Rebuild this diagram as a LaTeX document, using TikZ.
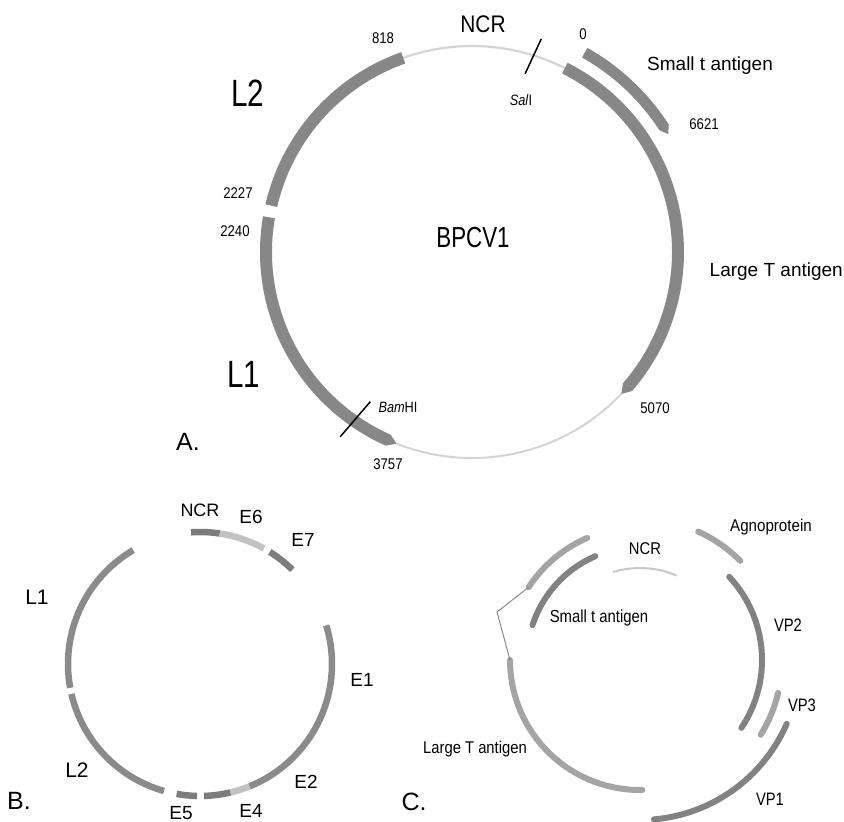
\documentclass[tikz,border=0pt]{standalone}
\usepackage{fontspec}
\setmainfont{Liberation Sans}
\usepackage{graphicx}
\usetikzlibrary{calc}

% greys of the three maps
\definecolor{segA}{HTML}{878787}
\definecolor{thinA}{HTML}{D4D4D4}
\definecolor{darkB}{HTML}{7C7C7C}
\definecolor{midB}{HTML}{8B8B8B}
\definecolor{lightB}{HTML}{C2C2C2}
\definecolor{lightC}{HTML}{A4A4A4}
\definecolor{darkC}{HTML}{828282}
\definecolor{ncrC}{HTML}{C8C8C8}

\newcommand{\fsz}[1]{\fontsize{#1}{#1}\selectfont}
\newcommand{\narrow}[2]{\scalebox{#1}[1]{#2}}

% filled band along a circle with a pointed end
% #1 colour, #2 centre, #3 radius, #4 half width, #5 start, #6 end, #7 tip (deg)
\newcommand{\tipband}[7]{%
  \fill[#1,shift={(#2)}] (#5:{#3+#4}) arc[start angle=#5,end angle=#6,radius={#3+#4}]
    -- ({#6+#7}:#3) -- (#6:{#3-#4})
    arc[start angle=#6,end angle=#5,radius={#3-#4}] -- cycle;}

% stroked arc: #1 style, #2 centre, #3 radius, #4 start, #5 end
\newcommand{\seg}[5]{%
  \draw[#1,shift={(#2)}] (#4:#3) arc[start angle=#4,end angle=#5,radius=#3];}

\tikzset{
  lbl/.style={inner sep=0pt, anchor=center, font=\fsz{19}},
  num/.style={inner sep=0pt, anchor=center, font=\fsz{15.5}},
  big/.style={inner sep=0pt, anchor=center, font=\fsz{38}},
  panel/.style={inner sep=0pt, anchor=center, font=\fsz{25}},
  bseg/.style={line width=6.5pt, line cap=butt},
  cseg/.style={line width=6pt, line cap=round},
  site/.style={line width=1.5pt, black}
}

\begin{document}
\begin{tikzpicture}[x=1pt,y=1pt]
\fill[white] (0,0) rectangle (844,-822);
\useasboundingbox (0,0) rectangle (844,-822);

% ---------------- A: BPCV1 ----------------
\def\cA{472,-252}
\seg{thinA,line width=2.2pt}{\cA}{206}{109.5}{63.2}
\seg{thinA,line width=2pt}{\cA}{206}{248.5}{317}
\tipband{segA}{\cA}{206}{6}{109.5}{167}{0}
\tipband{segA}{\cA}{206}{6}{170.3}{246}{2.5}
\tipband{segA}{\cA}{206}{6}{63.2}{-41}{-2.5}
\tipband{segA}{\cA}{229}{5.5}{60.5}{33}{-2}
% restriction sites
\draw[site,shift={(\cA)}] (72:224) -- (73.4:186);
\draw[site,shift={(\cA)}] (234.5:227) -- (235.8:181);

\node[num] (n818) at (383,-38) {\narrow{0.85}{818}};
\node[lbl,font=\fsz{24}] (ncrA) at (483,-24) {\narrow{0.87}{NCR}};
\node[num] (n0) at (583,-34) {\narrow{0.85}{0}};
\node[lbl,anchor=west] (smalltA) at (647,-66) {Small t antigen};
\node[num] (n6621) at (704,-124) {\narrow{0.85}{6621}};
\node[big] (l2A) at (248,-93) {\narrow{0.78}{L2}};
\node[num] (n2227) at (238,-193) {\narrow{0.85}{2227}};
\node[num] (n2240) at (235,-231) {\narrow{0.85}{2240}};
\node[lbl,font=\fsz{29}] (bpcv) at (473,-238) {\narrow{0.77}{BPCV1}};
\node[lbl,anchor=east] (largeTA) at (843,-272) {Large T antigen};
\node[big] (l1A) at (244,-374) {\narrow{0.78}{L1}};
\node[lbl,font=\fsz{15}] (bam) at (398,-407) {\narrow{0.85}{\textit{Bam}HI}};
\node[lbl,font=\fsz{15}] (sal) at (521,-100) {\narrow{0.85}{\textit{Sal}I}};
\node[num] (n5070) at (655,-408) {\narrow{0.85}{5070}};
\node[panel] (pA) at (188,-442) {A.};
\node[num] (n3757) at (388,-464) {\narrow{0.85}{3757}};

% ---------------- B ----------------
\def\cB{200,-664}
\seg{bseg,darkB}{\cB}{132}{93.9}{81.4}
\seg{bseg,lightB}{\cB}{132}{81.4}{61}
\seg{bseg,darkB}{\cB}{132}{58.1}{45.6}
\seg{bseg,midB}{\cB}{132}{17}{-32.1}
\seg{bseg,midB}{\cB}{132}{-32.1}{-68}
\seg{bseg,lightB}{\cB}{132}{-68}{-76.7}
\seg{bseg,darkB}{\cB}{132}{-76.7}{-88.3}
\seg{bseg,darkB}{\cB}{132}{-91.3}{-100.2}
\seg{bseg,midB}{\cB}{132}{-105.8}{-166.9}
\seg{bseg,midB}{\cB}{132}{-169.6}{-239.6}

\node[lbl,font=\fsz{18}] (ncrB) at (200,-510) {NCR};
\node[lbl] (e6) at (251,-517) {E6};
\node[lbl] (e7) at (303,-540) {E7};
\node[lbl,font=\fsz{21}] (l1B) at (37,-597) {L1};
\node[lbl] (e1) at (362,-680) {E1};
\node[lbl,font=\fsz{21}] (l2B) at (77,-770) {L2};
\node[lbl] (e2) at (306,-782) {E2};
\node[lbl] (e5) at (181,-813) {E5};
\node[lbl] (e4) at (251,-811) {E4};
\node[panel] (pB) at (19,-801) {B.};

% ---------------- C ----------------
\def\cC{640,-660}
\seg{line width=2pt,ncrC}{\cC}{92}{107}{66.6}
\seg{cseg,lightC}{\cC}{133}{146.8}{113.4}
\seg{cseg,darkC}{\cC}{113}{162}{113.3}
\seg{cseg,lightC}{\cC}{130}{180}{271}
\seg{cseg,lightC}{\cC}{141}{65.6}{44.7}
\seg{cseg,darkC}{\cC}{122}{43}{-33.8}
\seg{cseg,lightC}{\cC}{142}{-13.4}{-31.8}
\seg{cseg,darkC}{\cC}{160}{-23.5}{-85}

% splice between the two Large T exons
\coordinate (exon1) at ($(640,-660)+(146.8:133)$);
\coordinate (bend) at (497,-612);
\coordinate (exon2) at ($(640,-660)+(180:130)$);
\draw[line width=0.9pt,gray] (exon1) -- (bend) -- (exon2);

\node[lbl,font=\fsz{17}] (ncrC) at (645,-549) {\narrow{0.87}{NCR}};
\node[lbl,font=\fsz{17.5}] (smalltC) at (599,-618) {\narrow{0.85}{Small t antigen}};
\node[lbl,font=\fsz{17}] (agno) at (771,-527) {\narrow{0.89}{Agnoprotein}};
\node[lbl,font=\fsz{18}] (vp2) at (788,-625) {\narrow{0.82}{VP2}};
\node[lbl,font=\fsz{18}] (vp3) at (802,-705) {\narrow{0.82}{VP3}};
\node[lbl,font=\fsz{18}] (vp1) at (770,-799) {\narrow{0.82}{VP1}};
\node[lbl,font=\fsz{17}] (largeTC) at (475,-749) {\narrow{0.87}{Large T antigen}};
\node[panel] (pC) at (414,-802) {C.};
\end{tikzpicture}
\end{document}
